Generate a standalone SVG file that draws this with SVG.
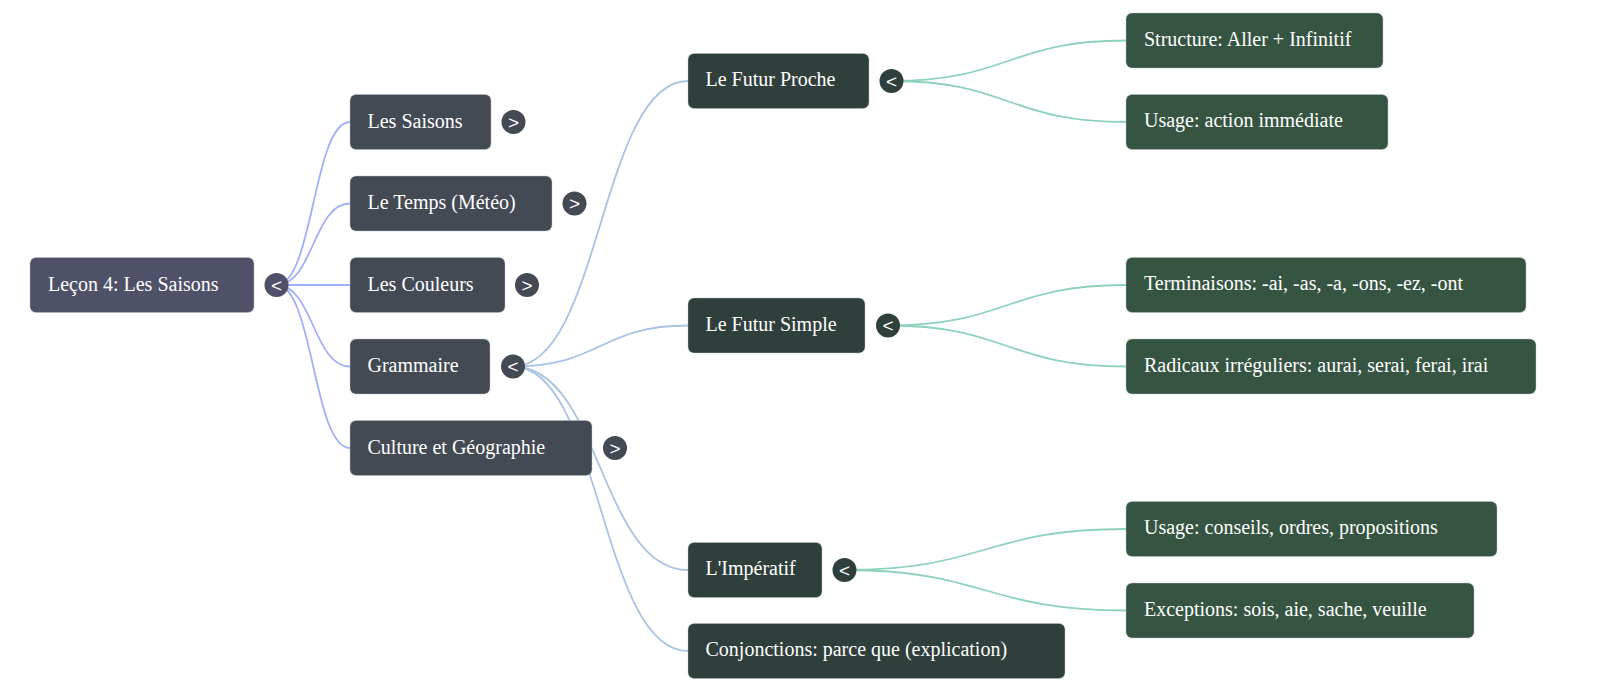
<svg xmlns="http://www.w3.org/2000/svg" width="1600" height="692" viewBox="0 0 1600 692">
<style>
.lbl{font-family:'Liberation Serif','Tinos','Times New Roman',Times,'DejaVu Serif',serif;font-size:20px;fill:#ffffff}
.tg{font-family:'Liberation Sans',Arial,sans-serif;font-size:19px;fill:#ffffff;text-anchor:middle}
.box{stroke:#b8bec4;stroke-opacity:0.45;stroke-width:1}
.r0{fill:#4e5167}
.r1{fill:#434a54}
.r2{fill:#2f403c}
.r3{fill:#365442}
.e0{fill:none;stroke:#a3aefa;stroke-width:1.8}
.e1{fill:none;stroke:#a8c3e3;stroke-width:1.8}
.e2{fill:none;stroke:#8dd2bc;stroke-width:1.8}
</style>
<rect width="1600" height="692" fill="#ffffff"/>
<g id="connectors">
<path class="e0" d="M276.5,285 C313.25,285 313.25,122 350,122"/>
<path class="e0" d="M276.5,285 C313.25,285 313.25,203.5 350,203.5"/>
<path class="e0" d="M276.5,285 L350,285"/>
<path class="e0" d="M276.5,285 C313.25,285 313.25,366.5 350,366.5"/>
<path class="e0" d="M276.5,285 C313.25,285 313.25,448 350,448"/>
<path class="e1" d="M513,366.5 C600.5,366.5 600.5,81 688,81"/>
<path class="e1" d="M513,366.5 C600.5,366.5 600.5,325.5 688,325.5"/>
<path class="e1" d="M513,366.5 C600.5,366.5 600.5,570 688,570"/>
<path class="e1" d="M513,366.5 C600.5,366.5 600.5,651 688,651"/>
<path class="e2" d="M891.5,81 C1008.75,81 1008.75,40.5 1126,40.5"/>
<path class="e2" d="M891.5,81 C1008.75,81 1008.75,122 1126,122"/>
<path class="e2" d="M888,325.5 C1007,325.5 1007,285 1126,285"/>
<path class="e2" d="M888,325.5 C1007,325.5 1007,366.5 1126,366.5"/>
<path class="e2" d="M844.5,570 C985.25,570 985.25,529 1126,529"/>
<path class="e2" d="M844.5,570 C985.25,570 985.25,610.5 1126,610.5"/>
</g>
<g font-family="'Liberation Serif', 'DejaVu Serif', serif">
<g id="root">
<rect class="box r0" x="30" y="257.5" width="224" height="55" rx="6"/>
<text class="lbl" x="48" y="290.5">Leçon 4: Les Saisons</text>
<circle class="r0" cx="276.5" cy="285" r="12"/>
<text class="tg" x="276.5" y="291.5">&lt;</text>
</g>
<g id="les-saisons">
<rect class="box r1" x="350" y="94.5" width="141" height="55" rx="6"/>
<text class="lbl" x="367.5" y="127.5">Les Saisons</text>
<circle class="r1" cx="513.5" cy="122" r="12"/>
<text class="tg" x="513.5" y="128.5">&gt;</text>
</g>
<g id="le-temps">
<rect class="box r1" x="350" y="176" width="202" height="55" rx="6"/>
<text class="lbl" x="367.5" y="209">Le Temps (Météo)</text>
<circle class="r1" cx="574.5" cy="203.5" r="12"/>
<text class="tg" x="574.5" y="210">&gt;</text>
</g>
<g id="les-couleurs">
<rect class="box r1" x="350" y="257.5" width="155" height="55" rx="6"/>
<text class="lbl" x="367.5" y="290.5">Les Couleurs</text>
<circle class="r1" cx="527" cy="285" r="12"/>
<text class="tg" x="527" y="291.5">&gt;</text>
</g>
<g id="grammaire">
<rect class="box r1" x="350" y="339" width="140" height="55" rx="6"/>
<text class="lbl" x="367.5" y="372">Grammaire</text>
<circle class="r1" cx="513" cy="366.5" r="12"/>
<text class="tg" x="513" y="373">&lt;</text>
</g>
<g id="culture">
<rect class="box r1" x="350" y="420.5" width="242" height="55" rx="6"/>
<text class="lbl" x="367.5" y="453.5">Culture et Géographie</text>
<circle class="r1" cx="615" cy="448" r="12"/>
<text class="tg" x="615" y="454.5">&gt;</text>
</g>
<g id="futur-proche">
<rect class="box r2" x="688" y="53.5" width="181" height="55" rx="6"/>
<text class="lbl" x="705.5" y="86">Le Futur Proche</text>
<circle class="r2" cx="891.5" cy="81" r="12"/>
<text class="tg" x="891.5" y="87.5">&lt;</text>
</g>
<g id="futur-simple">
<rect class="box r2" x="688" y="298" width="177" height="55" rx="6"/>
<text class="lbl" x="705.5" y="330.5">Le Futur Simple</text>
<circle class="r2" cx="888" cy="325.5" r="12"/>
<text class="tg" x="888" y="332">&lt;</text>
</g>
<g id="imperatif">
<rect class="box r2" x="688" y="542.5" width="134" height="55" rx="6"/>
<text class="lbl" x="705.5" y="575">L'Impératif</text>
<circle class="r2" cx="844.5" cy="570" r="12"/>
<text class="tg" x="844.5" y="576.5">&lt;</text>
</g>
<g id="conjonctions">
<rect class="box r2" x="688" y="623.5" width="377" height="55" rx="6"/>
<text class="lbl" x="705.5" y="656">Conjonctions: parce que (explication)</text>
</g>
<g id="structure">
<rect class="box r3" x="1126" y="13" width="257" height="55" rx="6"/>
<text class="lbl" x="1144" y="45.5">Structure: Aller + Infinitif</text>
</g>
<g id="usage-action">
<rect class="box r3" x="1126" y="94.5" width="262" height="55" rx="6"/>
<text class="lbl" x="1144" y="127">Usage: action immédiate</text>
</g>
<g id="terminaisons">
<rect class="box r3" x="1126" y="257.5" width="400" height="55" rx="6"/>
<text class="lbl" x="1144" y="290">Terminaisons: -ai, -as, -a, -ons, -ez, -ont</text>
</g>
<g id="radicaux">
<rect class="box r3" x="1126" y="339" width="410" height="55" rx="6"/>
<text class="lbl" x="1144" y="371.5">Radicaux irréguliers: aurai, serai, ferai, irai</text>
</g>
<g id="usage-conseils">
<rect class="box r3" x="1126" y="501.5" width="371" height="55" rx="6"/>
<text class="lbl" x="1144" y="534">Usage: conseils, ordres, propositions</text>
</g>
<g id="exceptions">
<rect class="box r3" x="1126" y="583" width="348" height="55" rx="6"/>
<text class="lbl" x="1144" y="615.5">Exceptions: sois, aie, sache, veuille</text>
</g>
</g>
</svg>
